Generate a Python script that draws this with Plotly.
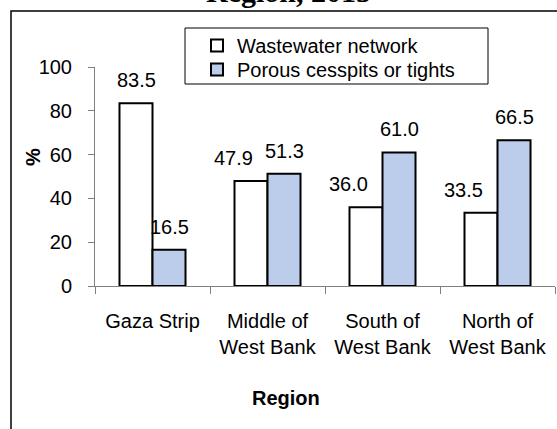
import plotly.graph_objects as go

categories = ["Gaza Strip", "Middle of<br>West Bank", "South of<br>West Bank", "North of<br>West Bank"]
series_names = ["Wastewater network", "Porous cesspits or tights"]
wastewater = [83.5, 47.9, 36.0, 33.5]
cesspits = [16.5, 51.3, 61.0, 66.5]
y_ticks = [0, 20, 40, 60, 80, 100]

FONT = "Arial, Liberation Sans, sans-serif"
W, H = 557, 429
L, R, T, B = 95, 2, 67, 143
pw, ph = W - L - R, H - T - B

def px_x(x):
    return (x - L) / pw

def px_y(y):
    return (H - B - y) / ph

BLUE = "#bccdec"

fig = go.Figure()
fig.add_trace(go.Bar(
    x=categories, y=wastewater, name=series_names[0], legend="legend",
    marker=dict(color="white", line=dict(color="black", width=2)),
))
fig.add_trace(go.Bar(
    x=categories, y=cesspits, name=series_names[1], legend="legend2",
    marker=dict(color=BLUE, line=dict(color="black", width=2)),
))

# label horizontal offsets (px) relative to group centre
white_label_dx = [-16.5, -34, -34, -34]
blue_label_dx = [16.5, 16.5, 16.5, 16.5]

annotations = []
for vals, dxs in ((wastewater, white_label_dx), (cesspits, blue_label_dx)):
    for c, v, dx in zip(categories, vals, dxs):
        annotations.append(dict(
            x=c, y=v, xref="x", yref="y", text=f"{v:.1f}", showarrow=False,
            xshift=dx, yshift=10, yanchor="bottom",
            font=dict(family=FONT, size=20, color="black"),
        ))

annotations.append(dict(
    x=px_x(286), y=px_y(398), xref="paper", yref="paper", text="<b>Region</b>",
    showarrow=False, xanchor="center", yanchor="middle",
    font=dict(family=FONT, size=20, color="black"),
))
annotations.append(dict(
    x=px_x(33), y=px_y(157), xref="paper", yref="paper", text="<b>%</b>",
    showarrow=False, xanchor="center", yanchor="middle", textangle=-90,
    font=dict(family=FONT, size=20, color="black"),
))
annotations.append(dict(
    x=px_x(288), y=px_y(10), xref="paper", yref="paper", text="<b>Region, 2015</b>",
    showarrow=False, xanchor="center", yanchor="bottom",
    font=dict(family="Times New Roman, Liberation Serif, serif", size=30, color="black"),
))

legend_common = dict(
    xanchor="left", yanchor="top", borderwidth=0, bgcolor="rgba(0,0,0,0)",
    font=dict(family=FONT, size=20, color="black"), itemwidth=30,
)

fig.update_layout(
    width=W, height=H,
    margin=dict(l=L, r=R, t=T, b=B),
    paper_bgcolor="white", plot_bgcolor="white",
    barmode="group", bargap=0.426, bargroupgap=0,
    showlegend=True,
    legend=dict(x=px_x(197), y=px_y(26), **legend_common),
    legend2=dict(x=px_x(197), y=px_y(50), **legend_common),
    xaxis=dict(
        showline=True, linecolor="#808080", linewidth=1,
        ticks="outside", tickson="boundaries", ticklen=7, tickcolor="#808080",
        tickfont=dict(family=FONT, size=20, color="black"),
        ticklabelstandoff=17,
        showgrid=False,
    ),
    yaxis=dict(
        range=[0, 100], tickvals=y_ticks,
        showline=True, linecolor="#808080", linewidth=1,
        ticks="outside", ticklen=6, tickcolor="#808080",
        tickfont=dict(family=FONT, size=20, color="black"),
        ticklabelstandoff=12,
        showgrid=False, zeroline=False,
    ),
    annotations=annotations,
    shapes=[
        dict(
            type="rect", xref="paper", yref="paper",
            x0=px_x(11), x1=px_x(W + 20), y0=px_y(H + 20), y1=px_y(11),
            line=dict(color="black", width=1.5), fillcolor="rgba(0,0,0,0)", layer="below",
        ),
        dict(
            type="rect", xref="paper", yref="paper",
            x0=px_x(185), x1=px_x(488), y0=px_y(84), y1=px_y(28),
            line=dict(color="black", width=1), fillcolor="white", layer="below",
        ),
    ],
)

fig.write_html(
    "out.html",
    config={"displayModeBar": False},
    post_script="document.body.style.margin='0';",
)
